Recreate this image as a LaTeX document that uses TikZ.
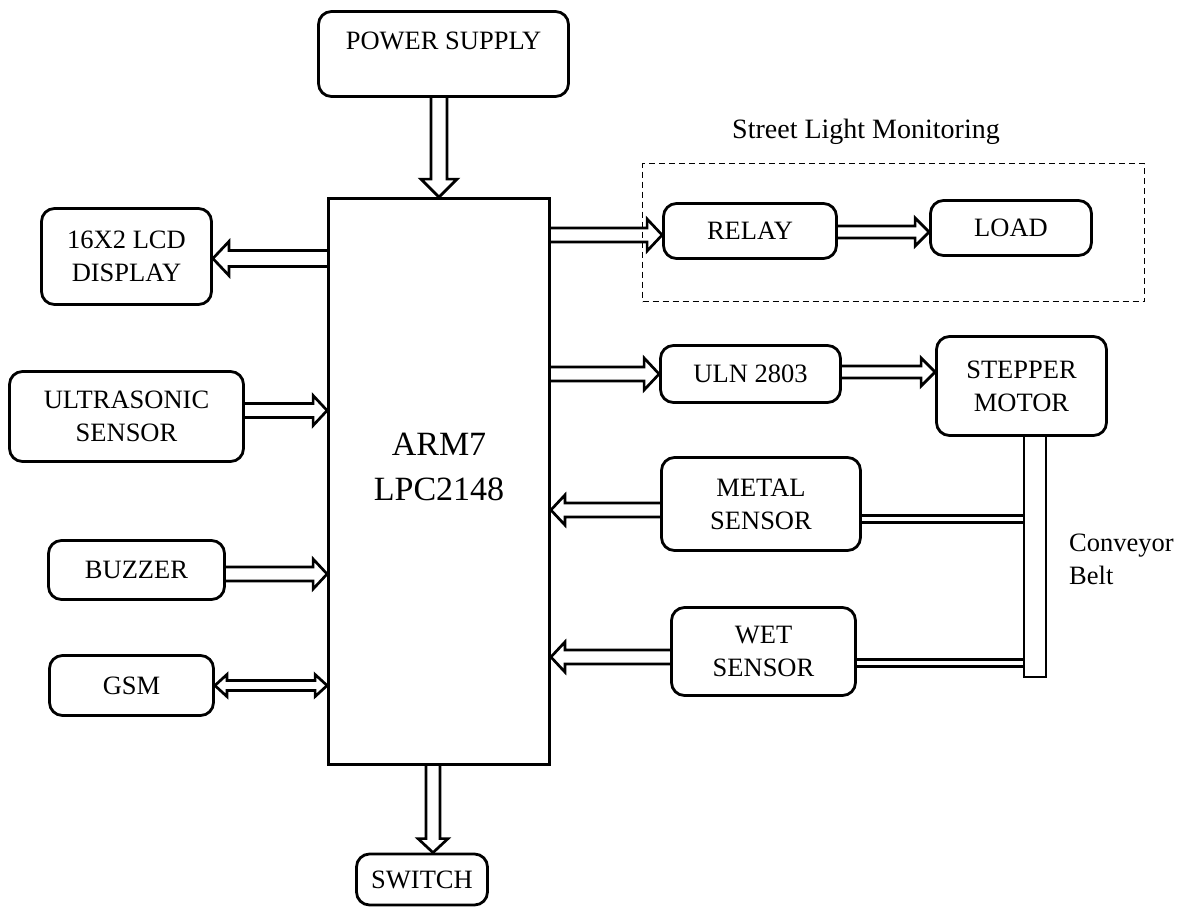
\documentclass[tikz,border=0pt]{standalone}
\usepackage{fontspec}
\setmainfont{Liberation Serif}
\usetikzlibrary{calc}
\newcommand{\blkarrow}[5]{%
  \coordinate (hbA) at ($(#2)!#5!(#1)$);
  \draw[blk] ($(#1)!#3!90:(#2)$) -- ($(hbA)!#3!90:(#2)$) -- ($(hbA)!#4!90:(#2)$) -- (#2) -- ($(hbA)!#4!-90:(#2)$) -- ($(hbA)!#3!-90:(#2)$) -- ($(#1)!#3!-90:(#2)$);
}
\newcommand{\dblarrow}[5]{%
  \coordinate (hbA) at ($(#1)!#5!(#2)$);
  \coordinate (hbB) at ($(#2)!#5!(#1)$);
  \draw[blk] (#1) -- ($(hbA)!#4!90:(#2)$) -- ($(hbA)!#3!90:(#2)$) -- ($(hbB)!#3!90:(#2)$) -- ($(hbB)!#4!90:(#2)$) -- (#2) -- ($(hbB)!#4!-90:(#2)$) -- ($(hbB)!#3!-90:(#2)$) -- ($(hbA)!#3!-90:(#2)$) -- ($(hbA)!#4!-90:(#2)$) -- cycle;
}
\begin{document}
\begin{tikzpicture}[x=1pt,y=-1pt,
  box/.style={draw, line width=2.8pt, rounded corners=13pt, align=center, inner sep=0pt,
    font=\fontsize{26.5}{33}\selectfont},
  blk/.style={draw, line width=2.7pt, line join=miter},
  txt/.style={inner sep=0pt, font=\fontsize{26.5}{33}\selectfont},
]
\useasboundingbox (0,0) rectangle (1190,911);

% nodes
\node[box, minimum width=250pt, minimum height=85pt] (power) at (443.5,54) {POWER SUPPLY\\[-6pt]~};
\node[draw, line width=2.8pt, minimum width=221pt, minimum height=566pt, inner sep=0pt] (cpu) at (439,481.5) {};
\node[txt, font=\fontsize{34}{45}\selectfont, align=center] (cputxt) at (439,467) {ARM7\\LPC2148};
\node[box, minimum width=170pt, minimum height=96pt] (lcd) at (126.5,256.5) {16X2 LCD\\DISPLAY};
\node[box, minimum width=234pt, minimum height=90pt] (ultra) at (126.5,416.5) {ULTRASONIC\\SENSOR};
\node[box, minimum width=176pt, minimum height=59pt] (buzzer) at (136.5,570) {BUZZER};
\node[box, minimum width=164pt, minimum height=60pt] (gsm) at (131.5,685.5) {GSM};
\node[box, minimum width=131pt, minimum height=51pt] (switch) at (422,879.5) {SWITCH};

\node[draw, dash pattern=on 6pt off 4pt, line width=1.5pt, minimum width=502pt, minimum height=138pt, inner sep=0pt] (street) at (893.5,232.5) {};
\node[txt, font=\fontsize{28}{33}\selectfont] (title) at (866,132) {Street Light Monitoring};
\node[box, minimum width=173pt, minimum height=55pt] (relay) at (750,231) {RELAY};
\node[box, minimum width=161pt, minimum height=55pt] (load) at (1011,228) {LOAD};
\node[box, minimum width=180pt, minimum height=57pt] (uln) at (750.5,374) {ULN 2803};
\node[box, minimum width=170pt, minimum height=99pt] (stepper) at (1021.5,386) {STEPPER\\MOTOR};
\node[box, minimum width=199pt, minimum height=93pt] (metal) at (761,504) {METAL\\SENSOR};
\node[box, minimum width=184pt, minimum height=88pt] (wet) at (763.5,651.5) {WET\\SENSOR};
\node[draw, line width=2.6pt, minimum width=22pt, minimum height=242pt, inner sep=0pt] (belt) at (1035,556) {};
\node[txt, align=left, anchor=west] (belttxt) at (1069,559) {Conveyor\\Belt};

% arrows
\coordinate (p1) at (cpu.north |- power.south);
\blkarrow{p1}{cpu.north}{8pt}{18pt}{18pt}

\coordinate (l2) at ($(lcd.east)+(0,2)$);
\coordinate (l1) at (cpu.west |- l2);
\blkarrow{l1}{l2}{8pt}{17pt}{16pt}

\coordinate (u1) at ($(ultra.east)+(0,-6)$);
\coordinate (u2) at (u1 -| cpu.west);
\blkarrow{u1}{u2}{7pt}{15pt}{14pt}

\coordinate (b1) at ($(buzzer.east)+(0,4)$);
\coordinate (b2) at (b1 -| cpu.west);
\blkarrow{b1}{b2}{7pt}{15pt}{14pt}

\coordinate (g1) at (gsm.east);
\coordinate (g2) at (g1 -| cpu.west);
\dblarrow{g1}{g2}{5pt}{11pt}{12pt}

\coordinate (r2) at ($(relay.west)+(0,4)$);
\coordinate (r1) at (cpu.east |- r2);
\blkarrow{r1}{r2}{7pt}{16pt}{15pt}

\coordinate (rl1) at ($(relay.east)+(0,1)$);
\coordinate (rl2) at (rl1 -| load.west);
\blkarrow{rl1}{rl2}{6pt}{14pt}{14pt}

\coordinate (n2) at (uln.west);
\coordinate (n1) at (cpu.east |- n2);
\blkarrow{n1}{n2}{7pt}{16pt}{15pt}

\coordinate (s1) at ($(uln.east)+(0,-2)$);
\coordinate (s2) at (s1 -| stepper.west);
\blkarrow{s1}{s2}{6pt}{14pt}{14pt}

\coordinate (m1) at ($(metal.west)+(0,6)$);
\coordinate (m2) at (m1 -| cpu.east);
\blkarrow{m1}{m2}{7pt}{15pt}{14pt}

\coordinate (w1) at ($(wet.west)+(0,5.5)$);
\coordinate (w2) at (w1 -| cpu.east);
\blkarrow{w1}{w2}{7pt}{15pt}{14pt}

\coordinate (sw1) at ($(cpu.south)+(-6,0)$);
\coordinate (sw2) at (sw1 |- switch.north);
\blkarrow{sw1}{sw2}{7pt}{15pt}{14pt}

% conveyor links
\coordinate (mb1) at ($(metal.east)+(0,15)$);
\draw[line width=2.8pt, double, double distance=4pt] (mb1) -- (mb1 -| belt.west);
\coordinate (wb1) at ($(wet.east)+(0,11.5)$);
\draw[line width=2.8pt, double, double distance=4pt] (wb1) -- (wb1 -| belt.west);
\end{tikzpicture}
\end{document}
